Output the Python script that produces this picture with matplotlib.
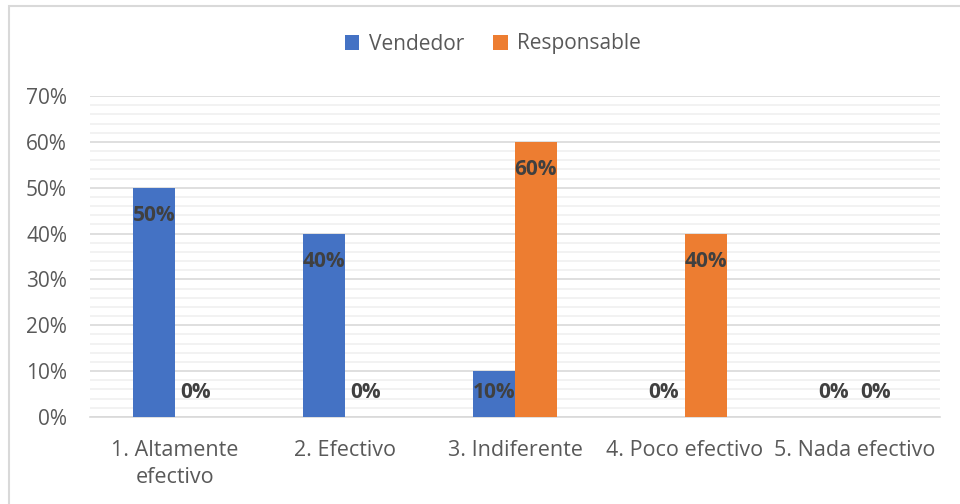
import matplotlib.pyplot as plt
import matplotlib.patches as patches
from matplotlib.ticker import MultipleLocator, PercentFormatter
import numpy as np

categories = ['1. Altamente\nefectivo', '2. Efectivo', '3. Indiferente',
              '4. Poco efectivo', '5. Nada efectivo']
vendedor = [0.50, 0.40, 0.10, 0.00, 0.00]
responsable = [0.00, 0.00, 0.60, 0.40, 0.00]
series_names = ['Vendedor', 'Responsable']
series_colors = ['#4472C4', '#ED7D31']

plt.rcParams['font.family'] = ['Open Sans', 'DejaVu Sans']

DPI = 100
fig = plt.figure(figsize=(9.6, 5.04), dpi=DPI)

# outer chart frame (only top and left edges fall inside the image)
fig.patches.append(patches.Rectangle((9 / 960, -0.1), 1.2, (504 - 6) / 504 + 0.1,
                                     transform=fig.transFigure, fill=False,
                                     edgecolor='#d9d9d9', linewidth=1.5))

ax = fig.add_axes([90 / 960, 87 / 504, 850 / 960, 321 / 504])
x = np.arange(len(categories))
w = 0.247

ymax = 0.7
ax_h_px = 321.0

for i, (vals, name, col) in enumerate(zip([vendedor, responsable], series_names, series_colors)):
    xs = x + (i - 0.5) * w
    ax.bar(xs, vals, width=w, color=col, label=name, zorder=3)
    for xi, v in zip(xs, vals):
        h_px = v / ymax * ax_h_px
        # label sits inside the top end, but never lower than near the base
        off_px = -28 if h_px - 28 >= 24 else 24 - h_px
        ax.annotate('{:.0f}%'.format(v * 100), (xi, v),
                    xytext=(0, off_px * 72 / DPI), textcoords='offset points',
                    ha='center', va='center', fontsize=15, fontweight='bold',
                    color='#404040', zorder=4)

ax.set_ylim(0, ymax)
ax.set_xlim(-0.5, len(categories) - 0.5)
ax.yaxis.set_major_locator(MultipleLocator(0.1))
ax.yaxis.set_minor_locator(MultipleLocator(0.02))
ax.yaxis.set_major_formatter(PercentFormatter(1.0, decimals=0))
ax.grid(axis='y', which='major', color='#d9d9d9', linewidth=1.2, zorder=1)
ax.grid(axis='y', which='minor', color='#f0f0f0', linewidth=1.2, zorder=0)
ax.set_axisbelow(True)

ax.set_xticks(x)
ax.set_xticklabels(categories, fontsize=15.5, color='#595959', linespacing=1.4)
ax.tick_params(axis='x', length=0, pad=16.5)
ax.tick_params(axis='y', which='both', length=0, pad=16.5, labelsize=15,
               labelcolor='#595959')

for s in ['top', 'right', 'left']:
    ax.spines[s].set_visible(False)
ax.spines['bottom'].set_color('#d9d9d9')
ax.spines['bottom'].set_linewidth(1.2)

fig.legend(loc='center', bbox_to_anchor=(493 / 960, 1 - 44 / 504), ncol=2,
           frameon=False, fontsize=15, handlelength=0.7, handleheight=0.7,
           handletextpad=0.45, columnspacing=1.4, labelcolor='#595959')

fig.savefig('out.png', dpi=DPI, facecolor='white')
